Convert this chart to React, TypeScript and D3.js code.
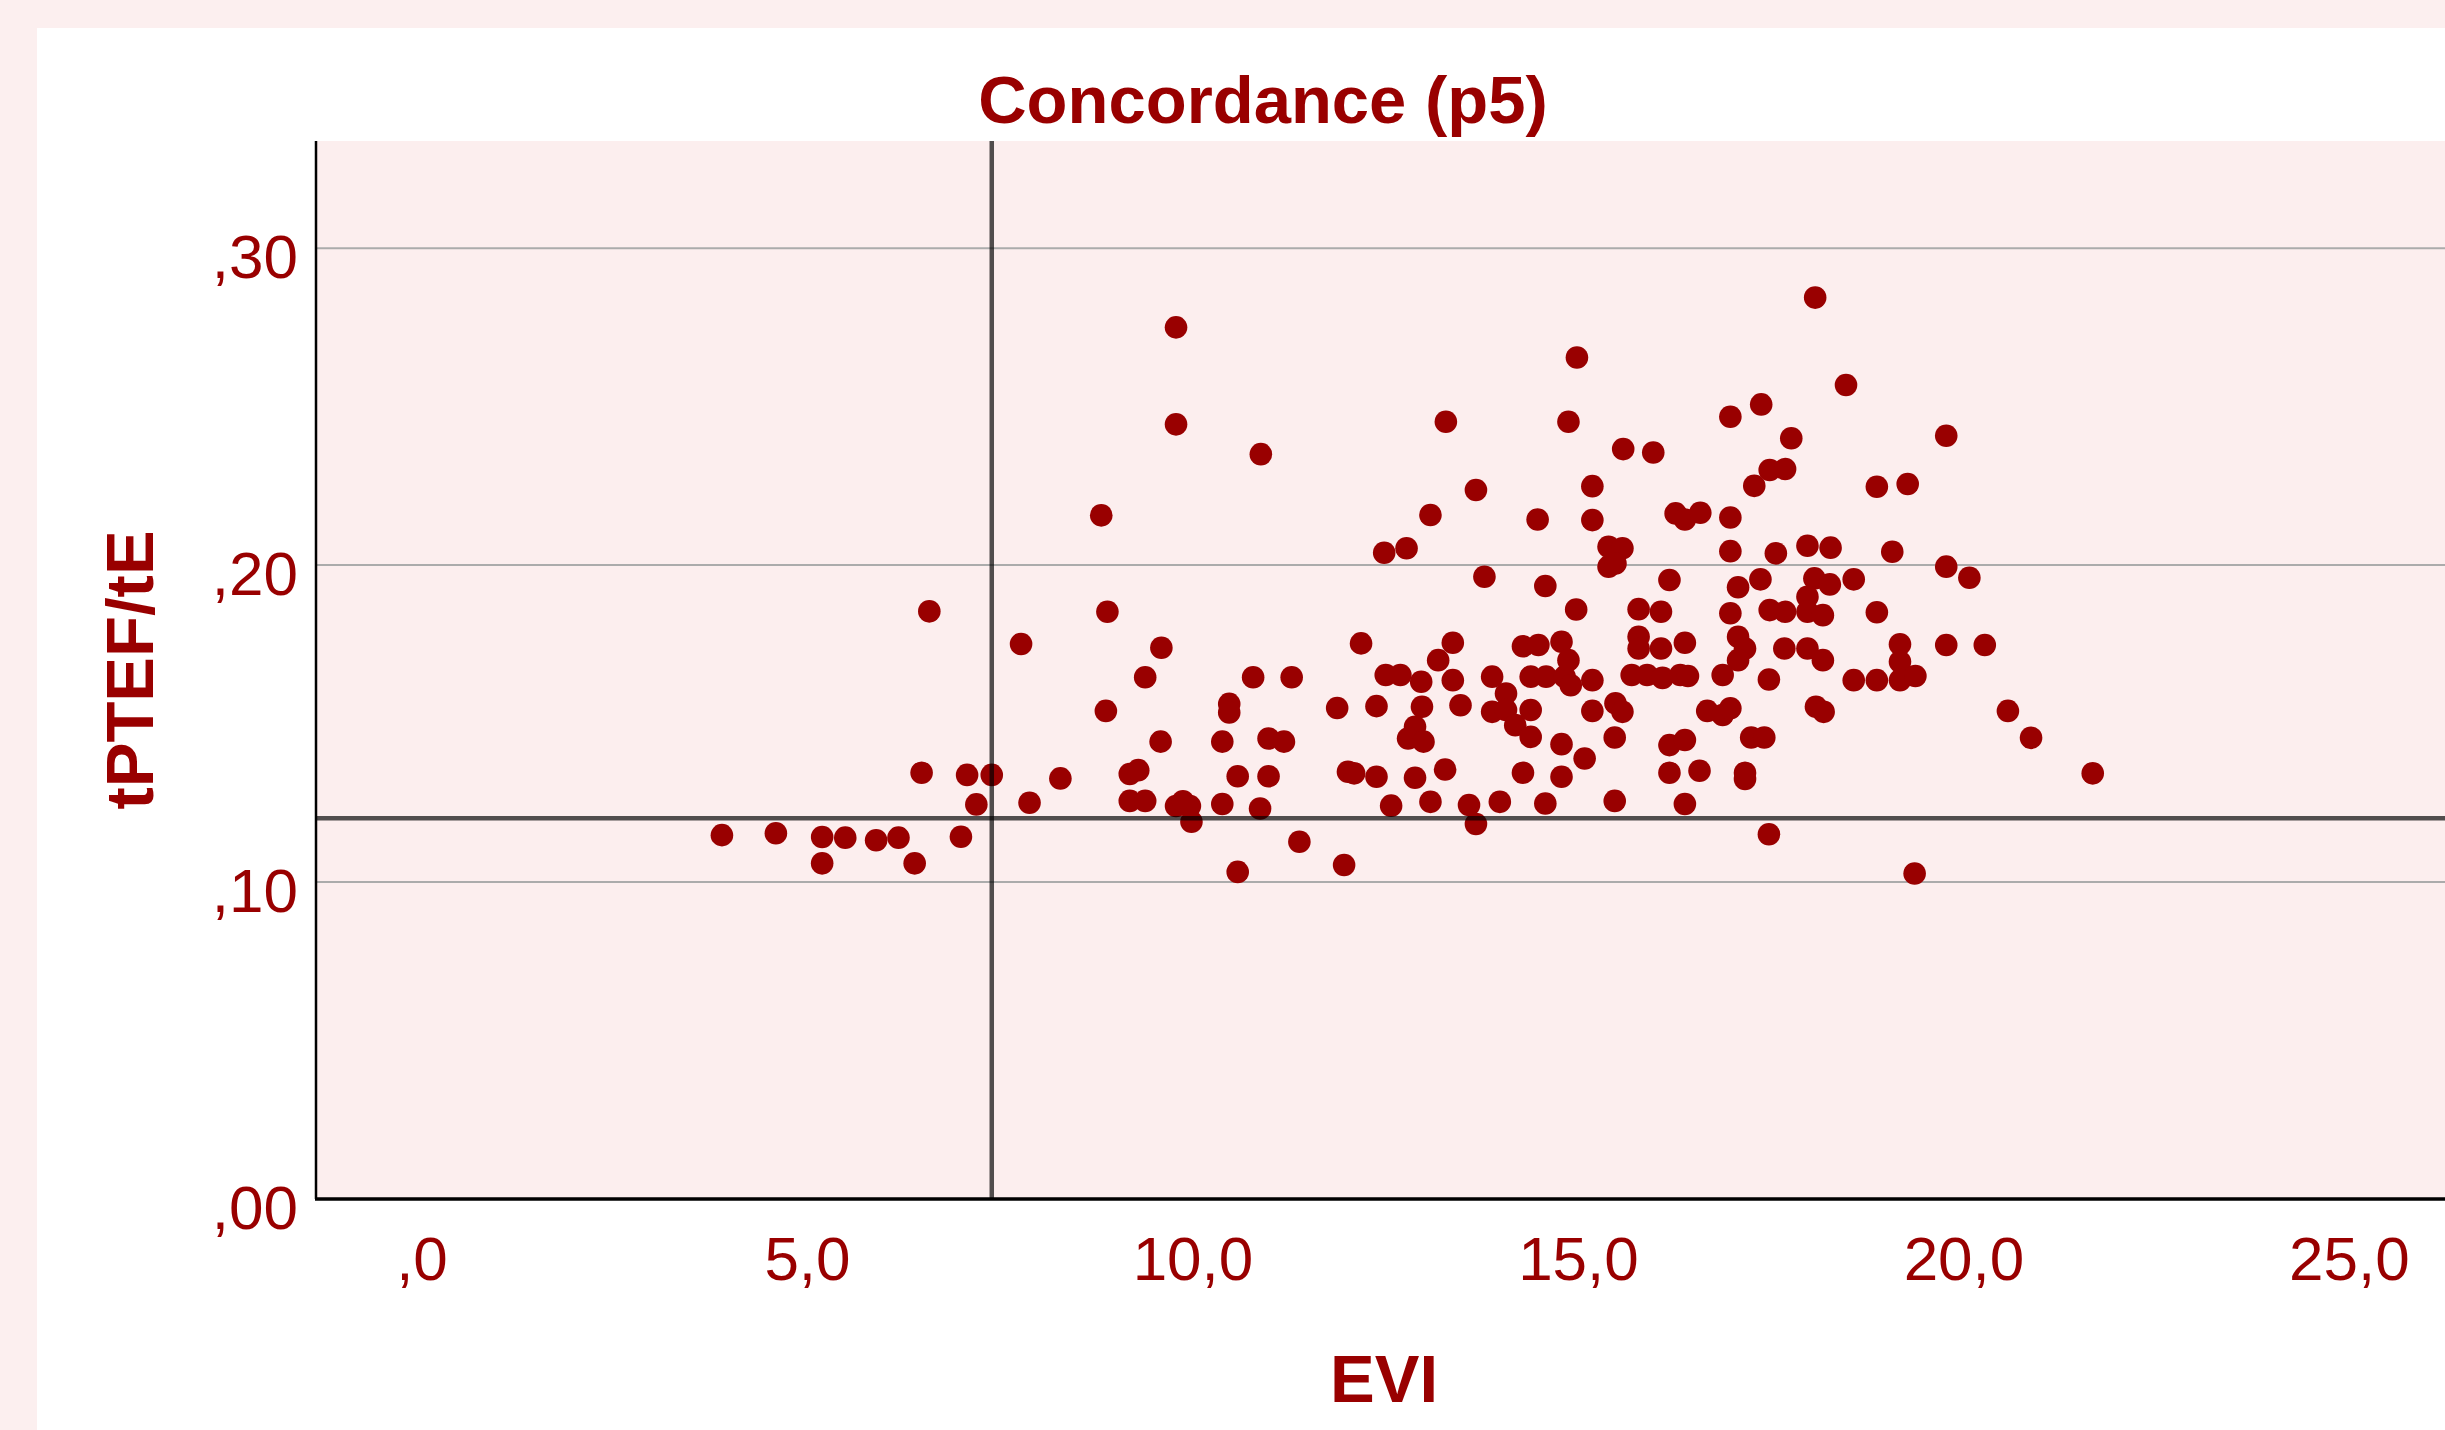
import * as d3 from 'd3';

// EVI (x) and tPTEF/tE (y)
const evi = [
  3.89, 4.59, 5.19, 5.49, 5.89, 6.18, 6.99, 5.19, 6.39, 6.48,
  7.07, 7.39, 7.19, 7.88, 8.28, 9.18, 9.29, 9.18, 9.38, 9.78,
  9.96, 9.87, 9.98, 10.38, 10.87, 10.58, 10.98, 11.38, 10.58, 11.96,
  8.87, 10.47, 10.47, 11.87, 9.58, 10.38, 10.98, 11.18, 6.58, 7.77,
  8.81, 8.89, 9.59, 9.38, 9.78, 9.78, 10.88, 10.78, 11.28, 14.98,
  13.28, 14.87, 16.97, 17.37, 17.76, 15.58, 15.97, 15.18, 13.67, 13.08,
  14.47, 15.18, 16.26, 16.38, 16.58, 16.97, 17.28, 17.48, 17.68, 12.48,
  12.77, 15.39, 15.57, 15.39, 15.48, 16.97, 17.56, 12.18, 13.37, 14.28,
  14.48, 14.78, 15.78, 15.78, 16.07, 16.38, 17.07, 17.16, 17.07, 17.67,
  13.78, 14.57, 16.18, 17.36, 17.07, 14.97, 15.78, 16.07, 16.97, 17.48,
  17.68, 12.50, 12.69, 12.96, 13.18, 13.37, 13.88, 14.06, 14.38, 14.58,
  14.82, 14.87, 15.18, 15.69, 15.89, 16.09, 16.32, 16.87, 17.47, 14.90,
  12.38, 12.01, 12.09, 12.38, 12.57, 12.88, 13.08, 13.27, 12.97, 12.88,
  12.79, 12.99, 13.47, 13.88, 14.06, 14.18, 14.38, 14.38, 13.58, 13.67,
  13.98, 14.28, 14.57, 14.78, 14.78, 15.08, 15.18, 15.48, 15.57, 15.47,
  15.47, 16.18, 16.38, 16.18, 16.57, 16.38, 16.67, 16.87, 16.97, 17.16,
  17.16, 17.24, 17.41, 17.47, 18.07, 18.47, 19.77, 18.87, 19.27, 17.97,
  18.27, 19.07, 19.77, 20.07, 18.06, 18.26, 18.57, 17.97, 17.97, 18.17,
  18.87, 17.97, 18.17, 19.17, 19.77, 20.27, 19.17, 18.57, 18.87, 19.17,
  19.37, 18.08, 18.18, 20.57, 20.87, 21.67, 19.36, 16.42,
];

const ratio = [
  0.1148, 0.1154, 0.1142, 0.1140, 0.1132, 0.1140, 0.1143, 0.1059, 0.1059, 0.1345,
  0.1338, 0.1338, 0.1245, 0.1250, 0.1327, 0.1341, 0.1353, 0.1256, 0.1256, 0.1240,
  0.1240, 0.1255, 0.1190, 0.1246, 0.1232, 0.1334, 0.1334, 0.1127, 0.1032, 0.1054,
  0.1540, 0.1562, 0.1535, 0.1549, 0.1443, 0.1443, 0.1453, 0.1443, 0.1854, 0.1751,
  0.2157, 0.1853, 0.1739, 0.1646, 0.2750, 0.2444, 0.2350, 0.1646, 0.1646, 0.2655,
  0.2452, 0.2452, 0.2468, 0.2507, 0.2400, 0.2366, 0.2355, 0.2249, 0.2237, 0.2158,
  0.2144, 0.2142, 0.2163, 0.2144, 0.2165, 0.2150, 0.2250, 0.2300, 0.2303, 0.2039,
  0.2053, 0.2058, 0.2053, 0.1995, 0.2005, 0.2044, 0.2037, 0.1753, 0.1755, 0.1744,
  0.1748, 0.1758, 0.1774, 0.1737, 0.1737, 0.1755, 0.1774, 0.1737, 0.1700, 0.1737,
  0.1963, 0.1934, 0.1953, 0.1955, 0.1930, 0.1860, 0.1861, 0.1853, 0.1848, 0.1858,
  0.1853, 0.1653, 0.1653, 0.1632, 0.1700, 0.1637, 0.1648, 0.1595, 0.1648, 0.1648,
  0.1648, 0.1700, 0.1637, 0.1653, 0.1653, 0.1644, 0.1653, 0.1653, 0.1639, 0.1621,
  0.1555, 0.1348, 0.1343, 0.1332, 0.1241, 0.1329, 0.1253, 0.1355, 0.1553, 0.1490,
  0.1453, 0.1443, 0.1558, 0.1537, 0.1543, 0.1495, 0.1543, 0.1458, 0.1243, 0.1183,
  0.1253, 0.1345, 0.1248, 0.1435, 0.1332, 0.1390, 0.1540, 0.1564, 0.1537, 0.1456,
  0.1256, 0.1432, 0.1448, 0.1345, 0.1351, 0.1246, 0.1540, 0.1527, 0.1548, 0.1345,
  0.1325, 0.1456, 0.1456, 0.1151, 0.2844, 0.2568, 0.2408, 0.2247, 0.2256, 0.2061,
  0.2055, 0.2042, 0.1995, 0.1960, 0.1958, 0.1939, 0.1955, 0.1900, 0.1853, 0.1842,
  0.1851, 0.1737, 0.1700, 0.1750, 0.1748, 0.1748, 0.1695, 0.1637, 0.1637, 0.1637,
  0.1650, 0.1553, 0.1537, 0.1540, 0.1455, 0.1343, 0.1027, 0.1650,
];

const xTicks = [0, 5, 10, 15, 20, 25];
const xTickLabels = [',0', '5,0', '10,0', '15,0', '20,0', '25,0'];
const yTicks = [0, 0.1, 0.2, 0.3];
const yTickLabels = [',00', ',10', ',20', ',30'];

// reference lines (p5)
const refX = 7.39;
const refY = 0.1201;

const RED = '#990000';
const FONT = '"Liberation Sans", Arial, sans-serif';

export default function App() {
  const width = 2445;
  const height = 1430;
  const plot = { left: 316, right: 2452, top: 141, bottom: 1199 };

  const x = d3.scaleLinear().domain([-1.375, 26.33]).range([plot.left, plot.right]);
  const y = d3.scaleLinear().domain([0, 0.3338]).range([plot.bottom, plot.top]);

  const points = evi.map((v, i) => ({ x: v, y: ratio[i] }));

  return (
    <svg
      width={width}
      height={height}
      style={{ position: 'absolute', left: 0, top: 0, display: 'block' }}
      fontFamily={FONT}
    >
      {/* outer pink frame and white panel */}
      <rect x={0} y={0} width={width} height={height} fill="#fcefef" />
      <rect x={37} y={28} width={width - 37} height={height - 28} fill="#ffffff" />

      {/* plot background */}
      <rect
        x={plot.left}
        y={plot.top}
        width={plot.right - plot.left}
        height={plot.bottom - plot.top}
        fill="#fceeee"
      />

      {/* horizontal grid */}
      {yTicks.filter(t => t > 0).map(t => (
        <line
          key={'g' + t}
          x1={plot.left}
          x2={plot.right}
          y1={y(t)}
          y2={y(t)}
          stroke="#ababab"
          strokeWidth={2}
        />
      ))}

      {/* points */}
      {points.map((d, i) => (
        <circle key={i} cx={x(d.x)} cy={y(d.y)} r={11.3} fill={RED} />
      ))}

      {/* reference lines */}
      <line x1={x(refX)} x2={x(refX)} y1={plot.top} y2={plot.bottom} stroke="#000" strokeOpacity={0.68} strokeWidth={4.5} />
      <line x1={plot.left} x2={plot.right} y1={y(refY)} y2={y(refY)} stroke="#000" strokeOpacity={0.68} strokeWidth={4.5} />

      {/* axes */}
      <line x1={plot.left} x2={plot.left} y1={plot.top} y2={plot.bottom} stroke="#000" strokeWidth={2.5} />
      <line x1={plot.left - 1} x2={plot.right} y1={plot.bottom} y2={plot.bottom} stroke="#000" strokeWidth={3.5} />

      {/* y tick labels */}
      {yTicks.map((t, i) => (
        <text key={'yt' + t} x={298} y={y(t) + 30} textAnchor="end" fontSize={62} fill={RED}>
          {yTickLabels[i]}
        </text>
      ))}

      {/* x tick labels */}
      {xTicks.map((t, i) => (
        <text key={'xt' + t} x={x(t)} y={1280} textAnchor="middle" fontSize={62} fill={RED}>
          {xTickLabels[i]}
        </text>
      ))}

      {/* titles */}
      <text x={1263} y={123} textAnchor="middle" fontSize={67} fontWeight="bold" fill={RED}>
        Concordance (p5)
      </text>
      <text x={1384} y={1402} textAnchor="middle" fontSize={67} fontWeight="bold" fill={RED}>
        EVI
      </text>
      <text
        transform="translate(153,670) rotate(-90)"
        textAnchor="middle"
        fontSize={67}
        fontWeight="bold"
        fill={RED}
      >
        tPTEF/tE
      </text>
    </svg>
  );
}
